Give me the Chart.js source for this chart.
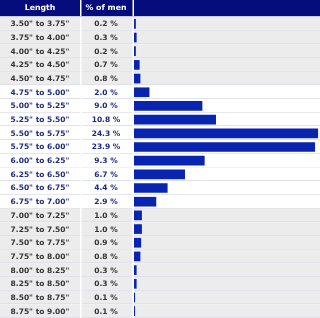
<!DOCTYPE html>
<html>
<head>
<meta charset="utf-8">
<script src="https://cdn.jsdelivr.net/npm/chart.js@4"></script>
<style>
  html, body { margin: 0; padding: 0; background: #fff; }
  #wrap { width: 320px; height: 318px; position: relative; }
</style>
</head>
<body>
<div id="wrap"><canvas id="chart"></canvas></div>
<script>
const lengths = [
  '3.50" to 3.75"', '3.75" to 4.00"', '4.00" to 4.25"', '4.25" to 4.50"',
  '4.50" to 4.75"', '4.75" to 5.00"', '5.00" to 5.25"', '5.25" to 5.50"',
  '5.50" to 5.75"', '5.75" to 6.00"', '6.00" to 6.25"', '6.25" to 6.50"',
  '6.50" to 6.75"', '6.75" to 7.00"', '7.00" to 7.25"', '7.25" to 7.50"',
  '7.50" to 7.75"', '7.75" to 8.00"', '8.00" to 8.25"', '8.25" to 8.50"',
  '8.50" to 8.75"', '8.75" to 9.00"'
]
const percentOfMen = [
  0.2, 0.3, 0.2, 0.7, 0.8, 2.0, 9.0, 10.8, 24.3, 23.9, 9.3,
  6.7, 4.4, 2.9, 1.0, 1.0, 0.9, 0.8, 0.3, 0.3, 0.1, 0.1
]
// rows shaded grey in the original table
const greyRows = [0, 1, 2, 3, 4, 14, 15, 16, 17, 18, 19, 20, 21]
const headers = ['Length', '% of men']

const navy = '#050c7c'
const barBlue = '#0a24b2'
const FONT = '"DejaVu Sans", Verdana, sans-serif'

const tablePlugin = {
  id: 'table',
  beforeDatasetsDraw(chart) {
    const { ctx, chartArea, scales } = chart
    const y = scales.y
    const half = (y.getPixelForValue(1) - y.getPixelForValue(0)) / 2
    ctx.save()
    lengths.forEach((label, i) => {
      const top = y.getPixelForValue(i) - half
      ctx.fillStyle = greyRows.includes(i) ? '#ececec' : '#ffffff'
      ctx.fillRect(0, top, chartArea.right, half * 2)
      // row separator
      ctx.fillStyle = '#dfe2ea'
      ctx.fillRect(0, Math.round(top + half * 2) - 1, chartArea.right, 1)
    })
    // column separators
    ctx.fillStyle = '#ffffff'
    ctx.fillRect(80, 0, 1.5, chartArea.bottom)
    ctx.fillRect(chartArea.left - 1.5, 0, 1.5, chartArea.bottom)

    // header
    ctx.fillStyle = navy
    ctx.fillRect(0, 0, 80, chartArea.top - 1)
    ctx.fillRect(81.5, 0, chartArea.left - 83, chartArea.top - 1)
    ctx.fillRect(chartArea.left, 0, chartArea.right - chartArea.left, chartArea.top - 1)
    ctx.fillStyle = '#c8cce8'
    ctx.fillRect(0, chartArea.top - 1, chartArea.right, 1)

    ctx.textAlign = 'center'
    ctx.textBaseline = 'middle'
    ctx.font = 'bold 7.8px ' + FONT
    ctx.fillStyle = '#ffffff'
    ctx.fillText(headers[0], 40, 8)
    ctx.fillText(headers[1], 106, 8)

    ctx.font = 'bold 7.5px ' + FONT
    lengths.forEach((label, i) => {
      const cy = y.getPixelForValue(i) + 0.5
      ctx.fillStyle = greyRows.includes(i) ? '#333333' : '#1c2a82'
      ctx.fillText(label, 40, cy)
      ctx.fillText(percentOfMen[i].toFixed(1) + ' %', 106, cy)
    })
    ctx.restore()
  }
}

new Chart(document.getElementById('chart'), {
  type: 'bar',
  data: {
    labels: lengths,
    datasets: [{
      data: percentOfMen,
      backgroundColor: barBlue,
      barThickness: 9,
      borderWidth: 0,
    }]
  },
  options: {
    indexAxis: 'y',
    responsive: true,
    maintainAspectRatio: false,
    animation: false,
    layout: { padding: { left: 134, top: 17, right: 0, bottom: 0 } },
    scales: {
      x: { display: false, min: 0, max: 24.6 },
      y: { display: false },
    },
    plugins: {
      legend: { display: false },
      tooltip: { enabled: false },
    },
  },
  plugins: [tablePlugin],
})
</script>
</body>
</html>
